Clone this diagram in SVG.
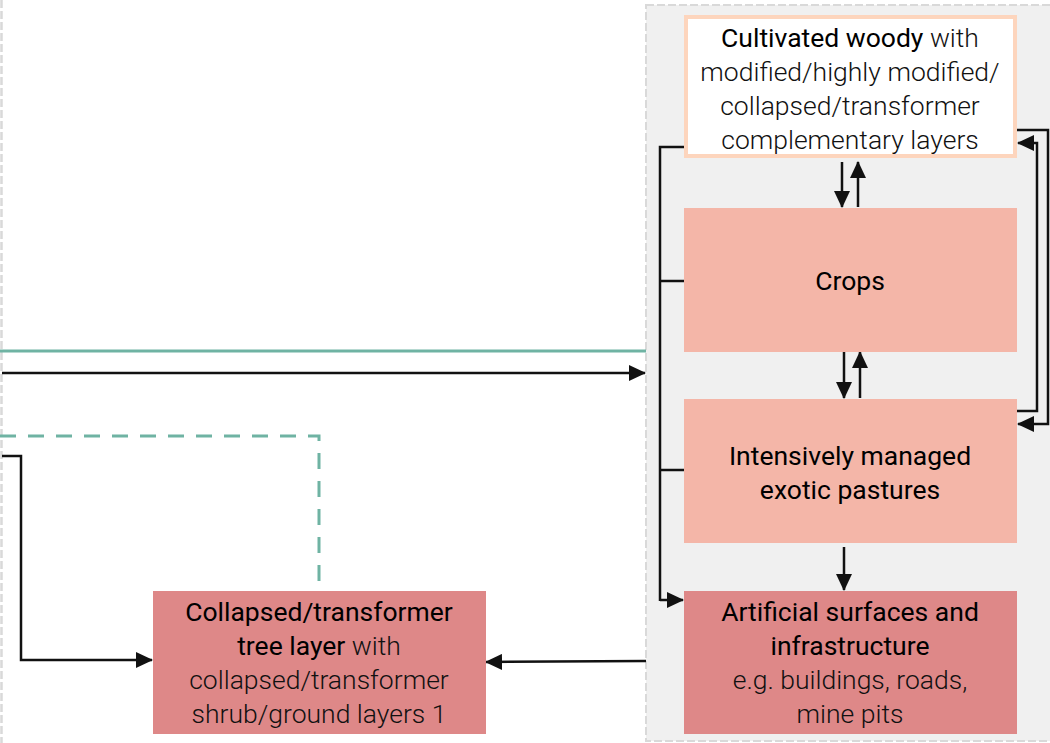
<svg xmlns="http://www.w3.org/2000/svg" width="1050" height="743" viewBox="0 0 1050 743">
<defs>
<marker id="ah" markerUnits="userSpaceOnUse" markerWidth="17" markerHeight="16" refX="16" refY="8" orient="auto">
<path d="M0,0 L17,8 L0,16 Z" fill="#111"/>
</marker>
<style>
.t{font-family:Roboto,"Liberation Sans",sans-serif;font-size:26.5px;fill:#111;text-anchor:middle;font-weight:300}
.b{font-weight:400;fill:#000}
.c{fill:none;stroke:#111;stroke-width:2.5}
.a{marker-end:url(#ah)}
</style>
</defs>
<rect width="1050" height="743" fill="#fff"/>
<line x1="1.5" y1="0" x2="1.5" y2="743" stroke="#d9d9d9" stroke-width="2.5" stroke-dasharray="8,3"/>
<rect id="container" x="646" y="5" width="410" height="736" fill="#f0f0f0" stroke="#d9d9d9" stroke-width="2" stroke-dasharray="8,3"/>
<g id="connectors">
<line x1="0" y1="351" x2="646" y2="351" stroke="#6fb3a3" stroke-width="3"/>
<line class="c a" x1="2" y1="373" x2="645" y2="373"/>
<polyline points="0,436 319,436 319,591" fill="none" stroke="#6fb3a3" stroke-width="3" stroke-dasharray="16,12"/>
<polyline class="c a" points="2,456 21,456 21,660 152,660"/>
<polyline class="c a" points="646,661 486,662"/>
<line class="c a" x1="842" y1="162" x2="842" y2="207"/>
<line class="c a" x1="858" y1="207" x2="858" y2="162"/>
<line class="c a" x1="844" y1="352" x2="844" y2="398"/>
<line class="c a" x1="860" y1="398" x2="860" y2="352"/>
<line class="c a" x1="844" y1="547" x2="844" y2="590"/>
<polyline class="c" points="686,147 660,147 660,601"/>
<polyline class="c a" points="660,600 683,600"/>
<line class="c" x1="660" y1="281" x2="687" y2="281"/>
<line class="c" x1="660" y1="470" x2="687" y2="470"/>
<polyline class="c a" points="1017,130 1048,130 1048,424 1018,424"/>
<polyline class="c a" points="1015,411 1037,411 1037,143 1018,143"/>
</g>
<g id="cultivated">
<rect x="686" y="17" width="329" height="139" fill="#fff" stroke="#fdd5bd" stroke-width="4"/>
<text class="t" x="850" y="47"><tspan class="b">Cultivated woody</tspan> with</text>
<text class="t" x="850" y="81">modified/highly modified/</text>
<text class="t" x="850" y="115">collapsed/transformer</text>
<text class="t" x="850" y="149">complementary layers</text>
</g>
<g id="crops">
<rect x="684" y="208" width="333" height="144" fill="#f4b6a8"/>
<text class="t b" x="850" y="290">Crops</text>
</g>
<g id="pastures">
<rect x="684" y="399" width="333" height="144" fill="#f4b6a8"/>
<text class="t b" x="850" y="465">Intensively managed</text>
<text class="t b" x="850" y="499">exotic pastures</text>
</g>
<g id="artificial">
<rect x="684" y="591" width="333" height="143" fill="#de8888"/>
<text class="t b" x="850" y="621">Artificial surfaces and</text>
<text class="t b" x="850" y="655">infrastructure</text>
<text class="t" x="850" y="689">e.g. buildings, roads,</text>
<text class="t" x="850" y="723">mine pits</text>
</g>
<g id="collapsed">
<rect x="153" y="591" width="333" height="143" fill="#de8888"/>
<text class="t b" x="319" y="621">Collapsed/transformer</text>
<text class="t" x="319" y="655"><tspan class="b">tree layer</tspan> with</text>
<text class="t" x="319" y="689">collapsed/transformer</text>
<text class="t" x="319" y="723">shrub/ground layers 1</text>
</g>
</svg>
